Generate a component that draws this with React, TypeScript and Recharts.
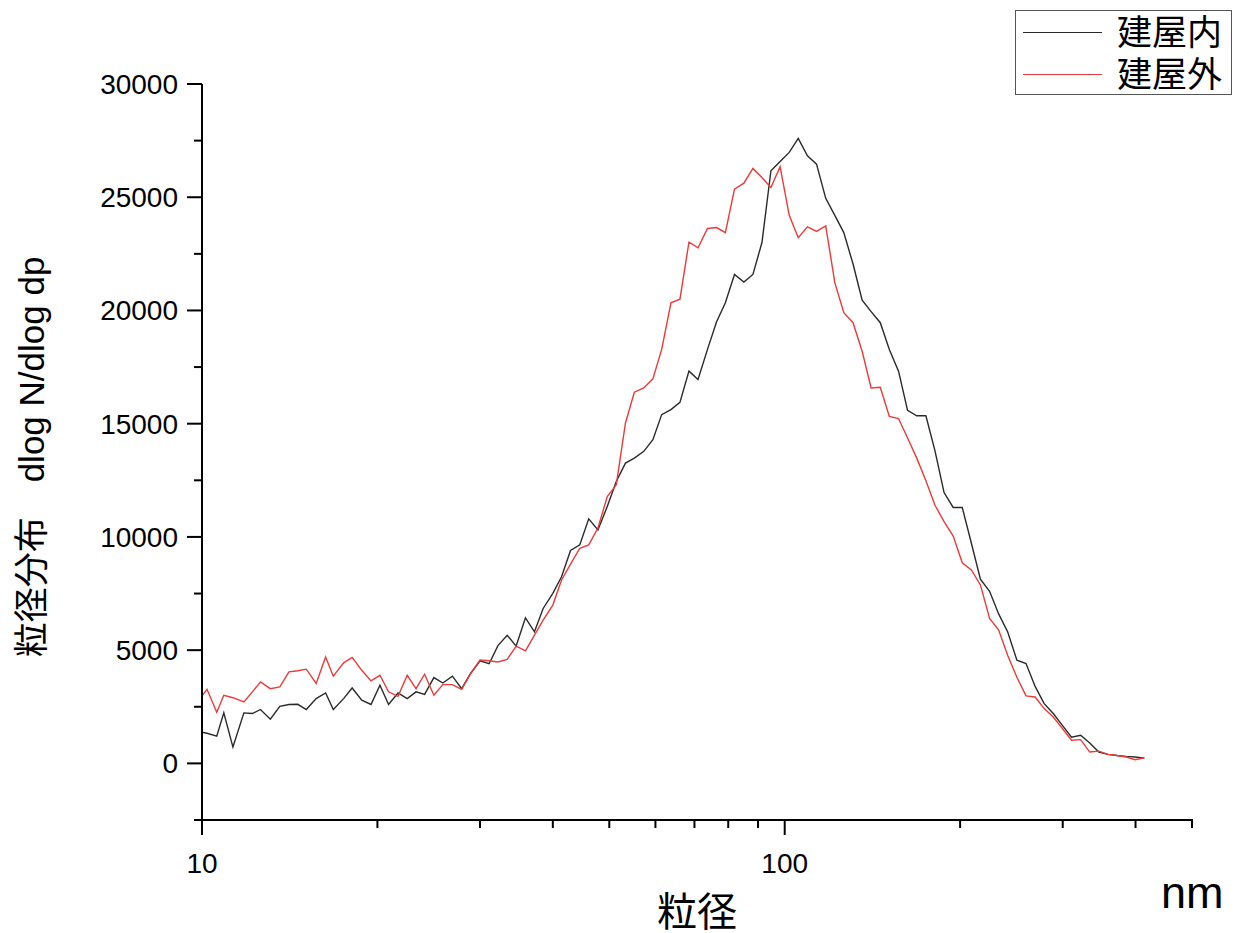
import React from 'react';
import { LineChart, Line, XAxis, YAxis, Legend } from 'recharts';

// SMPS channel midpoints (nm), 64 channels per decade
const DIAMETERS = [
    9.82, 10.2, 10.6, 10.9, 11.3, 11.8, 12.2, 12.6, 13.1, 13.6,
    14.1, 14.6, 15.1, 15.7, 16.3, 16.8, 17.5, 18.1, 18.8, 19.5,
    20.2, 20.9, 21.7, 22.5, 23.3, 24.1, 25.0, 25.9, 26.9, 27.9,
    28.9, 30.0, 31.1, 32.2, 33.4, 34.6, 35.9, 37.2, 38.5, 40.0,
    41.4, 42.9, 44.5, 46.1, 47.8, 49.6, 51.4, 53.3, 55.2, 57.3,
    59.4, 61.5, 63.8, 66.1, 68.5, 71.0, 73.7, 76.4, 79.1, 82.0,
    85.1, 88.2, 91.4, 94.7, 98.2, 101.8, 105.5, 109.4, 113.4, 117.6,
    121.9, 126.3, 131.0, 135.8, 140.7, 145.9, 151.2, 156.8, 162.5, 168.5,
    174.7, 181.1, 187.7, 194.6, 201.7, 209.1, 216.7, 224.7, 232.9, 241.4,
    250.3, 259.5, 269.0, 278.8, 289.0, 299.6, 310.6, 322.0, 333.8, 346.0,
    358.7, 371.8, 385.4, 399.5, 414.2
];

// 建屋内
const INSIDE = [
    1420, 1330, 1200, 2230, 720, 2230, 2200, 2380, 1950, 2520,
    2600, 2610, 2380, 2860, 3110, 2380, 2860, 3330, 2790, 2600,
    3450, 2600, 3110, 2860, 3160, 3050, 3790, 3550, 3850, 3300,
    3970, 4530, 4400, 5200, 5660, 5180, 6430, 5810, 6840, 7510,
    8240, 9400, 9650, 10800, 10310, 11340, 12450, 13260, 13480, 13780,
    14290, 15400, 15620, 15940, 17320, 16950, 18280, 19500, 20340, 21590,
    21250, 21590, 23000, 26170, 26580, 26980, 27600, 26830, 26460, 24950,
    24200, 23440, 22050, 20450, 19950, 19460, 18280, 17320, 15590, 15350,
    15350, 13800, 11960, 11300, 11300, 9720, 8130, 7600, 6600, 5800,
    4560, 4410, 3400, 2640, 2200, 1680, 1160, 1240, 900, 500,
    400, 350, 310, 280, 230
];

// 建屋外
const OUTSIDE = [
    2710, 3270, 2260, 3010, 2900, 2710, 3160, 3600, 3300, 3380,
    4040, 4090, 4160, 3530, 4700, 3850, 4440, 4680, 4110, 3640,
    3890, 3160, 2960, 3890, 3300, 3940, 3010, 3480, 3480, 3270,
    3950, 4570, 4530, 4480, 4590, 5180, 4970, 5660, 6330, 6990,
    8100, 8800, 9500, 9650, 10390, 11780, 12300, 15030, 16390, 16580,
    16980, 18280, 20340, 20500, 23020, 22770, 23620, 23660, 23440, 25360,
    25620, 26270, 25870, 25430, 26350, 24200, 23210, 23690, 23490, 23730,
    21230, 19900, 19460, 18200, 16580, 16610, 15320, 15230, 14370, 13480,
    12480, 11400, 10680, 10040, 8860, 8540, 7880, 6400, 5890, 4760,
    3800, 2980, 2930, 2420, 2050, 1540, 1020, 1050, 500, 540,
    400, 350, 280, 160, 250
];

const X_TICKS = [10, 20, 30, 40, 50, 60, 70, 80, 90, 100, 200, 300, 400, 500];
const X_LABELED = [10, 100];
const Y_TICKS = [-2500, 0, 2500, 5000, 7500, 10000, 12500, 15000, 17500, 20000, 22500, 25000, 27500, 30000];

const data = DIAMETERS.map((d, i) => ({ d, inside: INSIDE[i], outside: OUTSIDE[i] }));

const LATIN = '"Liberation Sans", Arial, sans-serif';
const CJK = '"Liberation Sans", "Noto Sans CJK JP", sans-serif';

const XTick = (props: any) => {
    const { x, y, payload } = props;
    const major = X_LABELED.includes(payload.value);
    return (
        <g>
            <line x1={x} x2={x} y1={y - 1} y2={y + (major ? 15 : 8)} stroke="#000" strokeWidth={2} />
            {major && (
                <text x={x} y={y + 53} textAnchor="middle" fontSize={28} fontFamily={LATIN} fill="#000">
                    {payload.value}
                </text>
            )}
        </g>
    );
};

const YTick = (props: any) => {
    const { x, y, payload } = props;
    const major = payload.value % 5000 === 0;
    return (
        <g>
            <line x1={x - (major ? 15 : 8)} x2={x} y1={y} y2={y} stroke="#000" strokeWidth={2} />
            {major && (
                <text x={x - 24} y={y + 10} textAnchor="end" fontSize={28} fontFamily={LATIN} fill="#000">
                    {payload.value}
                </text>
            )}
        </g>
    );
};

const LegendBox = ({ payload }: any) => (
    <div style={{ width: 217, height: 85, boxSizing: 'border-box', border: '1.5px solid #555', background: '#fff', position: 'relative' }}>
        {(payload || []).map((item: any, i: number) => (
            <div key={item.value} style={{ position: 'absolute', left: 7, top: i * 42, height: 42, display: 'flex', alignItems: 'center' }}>
                <span style={{ display: 'inline-block', width: 79, borderTop: `1.5px solid ${item.color}` }} />
                <span style={{ marginLeft: 15, fontSize: 35, lineHeight: 1, fontFamily: CJK, color: '#000' }}>{item.value}</span>
            </div>
        ))}
    </div>
);

export default function App() {
    return (
        <div style={{ position: 'absolute', left: 0, top: 0, width: 1236, height: 933, background: '#fff' }}>
            <LineChart width={1236} height={933} data={data} margin={{ top: 84, right: 44, bottom: 73, left: 0 }}>
                <XAxis
                    dataKey="d"
                    type="number"
                    scale="log"
                    domain={[10, 500]}
                    allowDataOverflow
                    ticks={X_TICKS}
                    interval={0}
                    height={40}
                    tickSize={0}
                    tickMargin={0}
                    tickLine={false}
                    axisLine={{ stroke: '#000', strokeWidth: 2 }}
                    tick={<XTick />}
                />
                <YAxis
                    type="number"
                    domain={[-2500, 30000]}
                    allowDataOverflow
                    ticks={Y_TICKS}
                    interval={0}
                    width={202}
                    tickSize={0}
                    tickMargin={0}
                    tickLine={false}
                    axisLine={{ stroke: '#000', strokeWidth: 2 }}
                    tick={<YTick />}
                />
                <Legend
                    layout="horizontal"
                    verticalAlign="middle"
                    align="center"
                    wrapperStyle={{ top: 10, left: 1015, width: 217, height: 85 }}
                    content={<LegendBox />}
                />
                <Line name="建屋内" dataKey="inside" type="linear" stroke="#2a2a2a" strokeWidth={1.4} dot={false} activeDot={false} isAnimationActive={false} />
                <Line name="建屋外" dataKey="outside" type="linear" stroke="#ec3a3a" strokeWidth={1.4} dot={false} activeDot={false} isAnimationActive={false} />
            </LineChart>
            <svg width={1236} height={933} style={{ position: 'absolute', left: 0, top: 0, pointerEvents: 'none' }}>
                <text
                    transform="translate(44, 457) rotate(-90)"
                    textAnchor="middle"
                    fontSize={35}
                    fontFamily={CJK}
                    fill="#000"
                >
                    粒径分布　dlog N/dlog dp
                </text>
                <text x={697} y={926} textAnchor="middle" fontSize={40} fontFamily={CJK} fill="#000">粒径</text>
                <text x={1161} y={908} fontSize={45} fontFamily={LATIN} fill="#000">nm</text>
            </svg>
        </div>
    );
}
